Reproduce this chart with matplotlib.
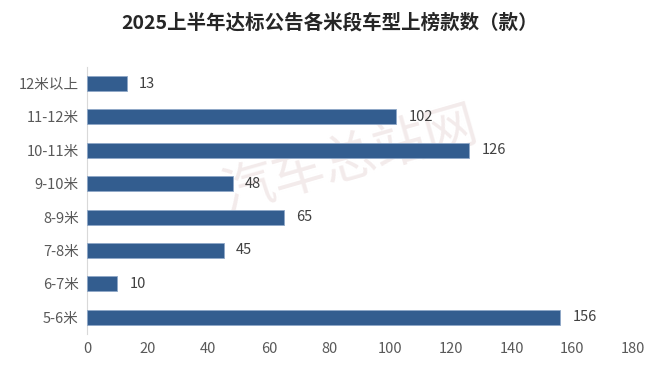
import matplotlib
matplotlib.use("Agg")
import matplotlib.pyplot as plt

plt.rcParams['font.family'] = ['Noto Sans CJK SC', 'DejaVu Sans']

# ---------- Data ----------
categories = ["5-6米", "6-7米", "7-8米", "8-9米", "9-10米", "10-11米", "11-12米", "12米以上"]
counts = [156, 10, 45, 65, 48, 126, 102, 13]
x_ticks = [0, 20, 40, 60, 80, 100, 120, 140, 160, 180]

bar_color = "#335D8F"
text_color = "#595959"

fig = plt.figure(figsize=(6.6, 3.76), dpi=100)
ax = fig.add_axes([0.132, 0.112, 0.827, 0.71])

y = range(len(categories))
ax.barh(y, counts, height=0.45, color=bar_color, edgecolor="#8FA8C8", linewidth=0.6, zorder=3)

for yi, v in zip(y, counts):
    ax.text(v + 4, yi, str(v), va="center", ha="left", fontsize=10.5, color="#404040", zorder=4)

ax.set_yticks(list(y))
ax.set_yticklabels(categories, fontsize=10.5, color=text_color)
ax.set_xticks(x_ticks)
ax.set_xticklabels([str(t) for t in x_ticks], fontsize=10.5, color=text_color)
ax.set_xlim(0, 180)
ax.set_ylim(-0.5, len(categories) - 0.5)

for side in ["top", "right", "bottom"]:
    ax.spines[side].set_visible(False)
ax.spines["left"].set_color("#D9D9D9")
ax.tick_params(axis="both", length=0, pad=6)

# watermark, behind the bars
ax.text(0.53, 0.574, "汽车总站网", transform=fig.transFigure, fontsize=38,
        color="#F3EBEB", rotation=16, ha="center", va="center", zorder=1)

fig.suptitle("2025上半年达标公告各米段车型上榜款数（款）", x=0.5, y=0.965,
             fontsize=14, fontweight="bold", color="#262626")

fig.savefig("out.png", dpi=100, facecolor="white")
